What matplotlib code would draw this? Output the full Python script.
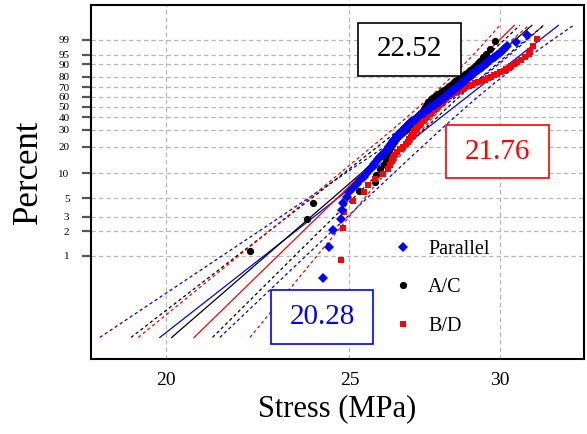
import numpy as np
import matplotlib
matplotlib.use("Agg")
import matplotlib.pyplot as plt
from matplotlib.patches import Rectangle
from matplotlib.ticker import NullLocator

plt.rcParams['font.family'] = ['Liberation Serif', 'DejaVu Serif']

# ---- data: sorted failure stresses (MPa) per specimen group ----
parallel = [24.22, 24.40, 24.52, 24.74, 24.77, 24.80, 24.92, 24.98, 25.12, 25.22,
            25.33, 25.43, 25.50, 25.57, 25.64, 25.71, 25.77, 25.83, 25.88, 25.94,
            25.99, 26.05, 26.10, 26.16, 26.19, 26.23, 26.26, 26.30, 26.33, 26.36,
            26.40, 26.43, 26.47, 26.50, 26.53, 26.57, 26.60, 26.64, 26.67, 26.70,
            26.74, 26.77, 26.81, 26.84, 26.87, 26.91, 26.95, 26.98, 27.02, 27.06,
            27.10, 27.13, 27.17, 27.21, 27.24, 27.28, 27.32, 27.36, 27.39, 27.43,
            27.47, 27.50, 27.54, 27.58, 27.61, 27.65, 27.69, 27.73, 27.76, 27.80,
            27.83, 27.86, 27.90, 27.93, 27.96, 27.99, 28.03, 28.06, 28.09, 28.12,
            28.16, 28.19, 28.22, 28.25, 28.28, 28.32, 28.35, 28.38, 28.41, 28.45,
            28.48, 28.51, 28.54, 28.58, 28.61, 28.64, 28.67, 28.70, 28.74, 28.77,
            28.80, 28.83, 28.87, 28.90, 28.93, 28.96, 29.00, 29.03, 29.06, 29.11,
            29.16, 29.21, 29.26, 29.31, 29.36, 29.41, 29.45, 29.50, 29.55, 29.60,
            29.65, 29.74, 29.82, 29.91, 30.00, 30.08, 30.17, 30.26, 30.60, 31.00]

ac = [22.17, 23.74, 23.92, 25.28, 25.79, 25.83, 25.95, 26.08, 26.13, 26.18,
      26.22, 26.26, 26.31, 26.38, 26.44, 26.51, 26.57, 26.66, 26.76, 26.85,
      26.94, 27.04, 27.13, 27.17, 27.21, 27.25, 27.29, 27.32, 27.36, 27.40,
      27.44, 27.48, 27.51, 27.55, 27.60, 27.68, 27.75, 27.82, 27.90, 27.97,
      28.05, 28.13, 28.20, 28.27, 28.35, 28.42, 28.50, 28.58, 28.67, 28.76,
      28.85, 28.94, 29.03, 29.12, 29.21, 29.30, 29.39, 29.51, 29.63, 29.84]

bd = [24.74, 24.80, 24.83, 25.10, 25.45, 25.57, 25.78, 26.05, 26.20, 26.26,
      26.31, 26.37, 26.43, 26.48, 26.58, 26.68, 26.78, 26.83, 26.88, 26.93,
      26.98, 27.02, 27.05, 27.09, 27.13, 27.18, 27.23, 27.27, 27.32, 27.37,
      27.41, 27.46, 27.50, 27.55, 27.60, 27.64, 27.69, 27.73, 27.78, 27.83,
      27.87, 27.92, 27.96, 28.01, 28.05, 28.10, 28.14, 28.22, 28.30, 28.38,
      28.45, 28.53, 28.61, 28.69, 28.77, 28.89, 29.00, 29.12, 29.23, 29.35,
      29.46, 29.58, 29.67, 29.79, 29.91, 30.02, 30.14, 30.24, 30.33, 30.42,
      30.51, 30.63, 30.78, 30.94, 31.07, 31.13, 31.24, 31.39]

group_names = ["Parallel", "A/C", "B/D"]
group_data = [parallel, ac, bd]
group_colors = ["#0000ff", "#000000", "#ff0000"]
group_markers = ["D", "o", "s"]
group_msize = [5.0, 5.2, 5.0]

# Weibull fits: shape (beta), scale (eta, MPa)
fit_shape = [18.28, 20.23, 22.75]
fit_scale = [28.98, 28.35, 28.05]
# confidence band half-width in ln(stress): sqrt(a^2 + b^2 (w - wc)^2)
band_a = [0.0118, 0.0113, 0.0121]
band_b = [0.0097, 0.0065, 0.0090]
band_wc = 0.5

# boxed annotations
box_texts = ["22.52", "21.76", "20.28"]
box_colors = ["#000000", "#ff0000", "#0000ff"]
box_extents = [(0.542, 0.750, 0.799, 0.950),
               (0.720, 0.928, 0.511, 0.661),
               (0.365, 0.573, 0.042, 0.195)]

y_ticks = [1, 2, 3, 5, 10, 20, 30, 40, 50, 60, 70, 80, 90, 95, 99]
x_ticks = [20, 25, 30]


def wb_fwd(p):
    p = np.clip(np.asarray(p, dtype=float), 1e-12, 100 - 1e-10)
    return np.log(-np.log(1 - p / 100.0))


def wb_inv(w):
    return 100.0 * (1 - np.exp(-np.exp(np.asarray(w, dtype=float))))


fig = plt.figure(figsize=(5.87, 4.34), dpi=100)
ax = fig.add_axes([0.1550, 0.1728, 0.8399, 0.8157])
ax.set_xscale("log")
ax.set_yscale("function", functions=(wb_fwd, wb_inv))

# fitted lines and confidence bounds, 0.1 % .. 99.9 %
w = np.linspace(np.log(-np.log(0.999)), np.log(-np.log(0.001)), 300)
pct = wb_inv(w)
dash = (2.6, 2.2)
for k in range(3):
    lnx = np.log(fit_scale[k]) + w / fit_shape[k]
    half = np.sqrt(band_a[k] ** 2 + (band_b[k] * (w - band_wc)) ** 2)
    c = group_colors[k]
    ax.plot(np.exp(lnx), pct, color=c, lw=0.9, zorder=3)
    ax.plot(np.exp(lnx - half), pct, color=c, lw=0.9, dashes=dash, zorder=3)
    ax.plot(np.exp(lnx + half), pct, color=c, lw=0.9, dashes=dash, zorder=3)

# data points at median-rank plotting positions
order = [1, 2, 0]
handles = {}
for k in order:
    vals = np.sort(np.asarray(group_data[k]))
    n = len(vals)
    ranks = np.arange(1, n + 1)
    prob = (ranks - 0.3) / (n + 0.4) * 100
    h, = ax.plot(vals, prob, linestyle="none", marker=group_markers[k],
                 color=group_colors[k], markersize=group_msize[k],
                 markeredgewidth=0, zorder=4, label=group_names[k])
    handles[k] = h

ax.set_xlim(18.27, 33.23)
ax.set_ylim(wb_inv(-7.518), wb_inv(2.51))

ax.set_xticks(x_ticks)
ax.set_xticklabels([str(t) for t in x_ticks])
ax.xaxis.set_minor_locator(NullLocator())
ax.set_yticks(y_ticks)
ax.set_yticklabels([str(t) for t in y_ticks])
ax.yaxis.set_minor_locator(NullLocator())

ax.grid(True, color="#b8b8b8", linestyle=(0, (3.5, 2.5)), linewidth=0.9, zorder=1)
ax.set_axisbelow(True)

ax.tick_params(axis="y", length=6.5, width=1.6, color="#555555", pad=9, labelsize=8)
ax.tick_params(axis="x", length=0, pad=9, labelsize=14)
for s in ax.spines.values():
    s.set_linewidth(1.5)
    s.set_color("black")

ax.set_xlabel("Stress (MPa)", fontsize=22, labelpad=4)
ax.set_ylabel("Percent", fontsize=25)
ax.yaxis.set_label_coords(-0.094, 0.53)

leg = ax.legend([handles[0], handles[1], handles[2]], group_names,
                loc="upper left", bbox_to_anchor=(0.612, 0.336),
                frameon=False, fontsize=14.5, handlelength=1.0,
                handletextpad=0.76, labelspacing=0.95, borderpad=0,
                borderaxespad=0, numpoints=1, markerscale=1.0)

for txt, col, (x0, x1, y0, y1) in zip(box_texts, box_colors, box_extents):
    ax.add_patch(Rectangle((x0, y0), x1 - x0, y1 - y0, transform=ax.transAxes,
                           facecolor="white", edgecolor=col, linewidth=1.2,
                           zorder=6, clip_on=False))
    ax.text((x0 + x1) / 2, (y0 + y1) / 2, txt, transform=ax.transAxes,
            color=col, fontsize=21, ha="center", va="center", zorder=7)

fig.savefig("out.png", dpi=100)
